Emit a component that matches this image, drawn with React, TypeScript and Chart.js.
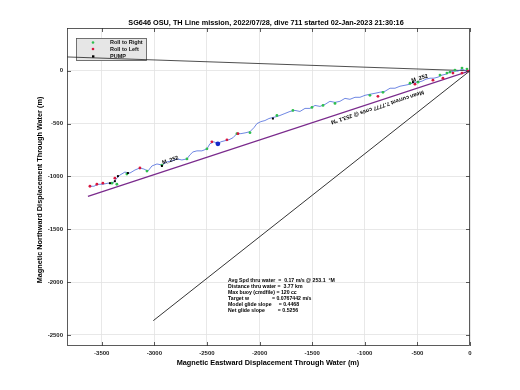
import { useEffect, useRef } from "react";
import { Chart, registerables } from "chart.js";
Chart.register(...registerables);

const titleText = "SG646 OSU, TH Line mission, 2022/07/28, dive 711 started 02-Jan-2023 21:30:16";
const xTitle = "Magnetic Eastward Displacement Through Water (m)";
const yTitle = "Magnetic Northward Displacement Through Water (m)";
const xTicks = [-3500, -3000, -2500, -2000, -1500, -1000, -500, 0];
const yTicks = [0, -500, -1000, -1500, -2000, -2500];
const xRange = [-3830, 0];
const yRange = [-2605, 405];

const trackX = [0, -38, -76, -114, -152, -190, -228, -266, -304, -342, -380, -418, -456, -494, -532, -570, -618, -665, -713, -760, -808, -856, -903, -951, -998, -1046, -1093, -1141, -1188, -1236, -1283, -1331, -1378, -1426, -1473, -1521, -1568, -1616, -1664, -1711, -1759, -1806, -1835, -1873, -1911, -1949, -1987, -2025, -2053, -2091, -2129, -2177, -2215, -2253, -2291, -2329, -2367, -2396, -2434, -2472, -2500, -2548, -2595, -2633, -2662, -2690, -2738, -2785, -2833, -2880, -2928, -2975, -3023, -3061, -3099, -3137, -3184, -3232, -3280, -3327, -3356, -3394, -3441, -3489, -3536, -3574, -3612];
const trackY = [0, 0, 16, -3, -3, -12, -32, -41, -60, -70, -70, -79, -98, -108, -108, -127, -137, -146, -165, -165, -194, -203, -213, -222, -232, -251, -251, -270, -261, -289, -299, -289, -318, -337, -328, -356, -356, -385, -375, -385, -404, -423, -433, -442, -452, -471, -481, -500, -538, -576, -586, -595, -595, -634, -653, -662, -672, -691, -672, -691, -739, -758, -758, -768, -796, -834, -844, -834, -853, -863, -892, -882, -901, -949, -930, -920, -939, -968, -959, -987, -1016, -1064, -1064, -1074, -1074, -1093, -1093];

const rightX = [-29, -76, -143, -190, -219, -285, -494, -570, -827, -951, -1283, -1397, -1502, -1683, -1835, -2091, -2215, -2500, -2690, -2928, -3070, -3261, -3356, -3403];
const rightY = [16, 26, 7, -12, -22, -41, -108, -118, -204, -232, -309, -328, -347, -375, -423, -586, -595, -739, -834, -892, -949, -977, -1074, -1064];

const leftX = [-19, -76, -162, -257, -352, -523, -875, -2205, -2310, -2453, -3137, -3375, -3489, -3546, -3612];
const leftY = [-3, -22, -22, -70, -89, -127, -242, -595, -653, -672, -920, -1016, -1064, -1074, -1093];

const pumpX = [-542, -1873, -2928, -3251, -3346, -3375, -3422];
const pumpY = [-108, -452, -901, -968, -997, -1045, -1064];

const markX = [-2396];
const markY = [-691];

const headingX = [0, -3830];
const headingY = [0, 131];
const glideX = [0, -3010];
const glideY = [0, -2365];
const netX = [0, -3631];
const netY = [0, -1188];

const labelX = [-2925, -555];
const labelY = [-870, -95];
const labelText = ["M_252", "M_252"];

const statsLines = [
  "Avg Spd thru water  =  0.17 m/s @ 253.1  \u00B0M",
  "Distance thru water =  3.77 km",
  "Max buoy (cmdfile) = 120 cc",
  "Target w                = 0.0767442 m/s",
  "Model glide slope     = 0.4468",
  "Net glide slope         = 0.5256",
];
const netText = "Mean current 7.7777 cm/s @ 253.1 \u00B0M";

const pts = (xs: number[], ys: number[]) => xs.map((x, i) => ({ x, y: ys[i] }));
const FONT = "'Liberation Sans', Arial, sans-serif";

export default function App() {
  const ref = useRef<HTMLCanvasElement | null>(null);
  useEffect(() => {
    document.body.style.margin = "0";
    const canvas = ref.current!;
    const deco = {
      id: "deco",
      beforeDatasetsDraw(chart: any) {
        const ctx = chart.ctx;
        ctx.save();
        ctx.fillStyle = "#e6e6e6";
        ctx.strokeStyle = "#555";
        ctx.lineWidth = 0.8;
        ctx.fillRect(76, 38, 71, 23);
        ctx.strokeRect(76.5, 38.5, 70, 22);
        const items = [
          ["Roll to Right", "#2fbf4f", "circle"],
          ["Roll to Left", "#d8163f", "circle"],
          ["PUMP", "#000", "rect"],
        ];
        const ys = [42.5, 49, 56.5];
        ctx.font = `bold 5.5px ${FONT}`;
        ctx.textBaseline = "middle";
        items.forEach((it, i) => {
          ctx.fillStyle = it[1];
          if (it[2] === "circle") {
            ctx.beginPath();
            ctx.arc(93, ys[i], 1.3, 0, Math.PI * 2);
            ctx.fill();
          } else {
            ctx.fillRect(92, ys[i] - 1.2, 2.4, 2.4);
          }
          ctx.fillStyle = "#111";
          ctx.fillText(it[0], 110, ys[i]);
        });
        ctx.restore();
      },
      afterDatasetsDraw(chart: any) {
        const ctx = chart.ctx;
        const a = chart.chartArea;
        const xs = chart.scales.x;
        const ys = chart.scales.y;
        ctx.save();
        ctx.strokeStyle = "#333";
        ctx.lineWidth = 0.8;
        ctx.strokeRect(a.left + 0.5, a.top + 0.5, a.right - a.left - 1, a.bottom - a.top - 1);
        ctx.beginPath();
        xTicks.forEach((v) => {
          const p = Math.round(xs.getPixelForValue(v)) + 0.5;
          ctx.moveTo(p, a.bottom);
          ctx.lineTo(p, a.bottom - 4);
          ctx.moveTo(p, a.top);
          ctx.lineTo(p, a.top + 4);
        });
        yTicks.forEach((v) => {
          const p = Math.round(ys.getPixelForValue(v)) + 0.5;
          ctx.moveTo(a.left, p);
          ctx.lineTo(a.left + 4, p);
          ctx.moveTo(a.right, p);
          ctx.lineTo(a.right - 4, p);
        });
        ctx.stroke();
        ctx.fillStyle = "#000";
        ctx.font = `bold 5.5px ${FONT}`;
        ctx.textAlign = "left";
        ctx.textBaseline = "middle";
        labelText.forEach((t, i) => {
          ctx.save();
          ctx.translate(xs.getPixelForValue(labelX[i]), ys.getPixelForValue(labelY[i]));
          ctx.rotate(-0.3);
          ctx.fillText(t, 0, 0);
          ctx.restore();
        });
        const x0 = xs.getPixelForValue(netX[0]);
        const y0 = ys.getPixelForValue(netY[0]);
        const x1 = xs.getPixelForValue(netX[1]);
        const y1 = ys.getPixelForValue(netY[1]);
        const ang = Math.atan2(y1 - y0, x1 - x0);
        ctx.save();
        ctx.translate(xs.getPixelForValue(-880), ys.getPixelForValue(-345));
        ctx.rotate(ang);
        ctx.textAlign = "center";
        ctx.font = `bold 5.5px ${FONT}`;
        ctx.fillText(netText, 0, 0);
        ctx.restore();
        ctx.font = `bold 5.2px ${FONT}`;
        ctx.textAlign = "left";
        statsLines.forEach((l, i) => {
          ctx.fillText(l, 228, 281 + i * 5.9);
        });
        ctx.restore();
      },
      afterDraw(chart: any) {
        const ctx = chart.ctx;
        ctx.save();
        ctx.fillStyle = "#000";
        ctx.textAlign = "center";
        ctx.textBaseline = "middle";
        ctx.font = `bold 7.3px ${FONT}`;
        ctx.fillText(titleText, 266, 23);
        ctx.font = `bold 7.3px ${FONT}`;
        ctx.fillText(xTitle, 268, 363);
        ctx.save();
        ctx.translate(40, 190);
        ctx.rotate(-Math.PI / 2);
        ctx.fillText(yTitle, 0, 0);
        ctx.restore();
        ctx.restore();
      },
    };
    const tickFont = { family: FONT, size: 6, weight: "bold" };
    const chart = new Chart(canvas, {
      type: "scatter",
      data: {
        datasets: [
          { data: pts(markX, markY), pointRadius: 2.4, backgroundColor: "#1428c8", borderWidth: 0, order: 0 },
          { data: pts(pumpX, pumpY), pointStyle: "rect", pointRadius: 1.4, backgroundColor: "#000", borderWidth: 0, order: 1 },
          { data: pts(leftX, leftY), pointRadius: 1.4, backgroundColor: "#d8163f", borderWidth: 0, order: 2 },
          { data: pts(rightX, rightY), pointRadius: 1.4, backgroundColor: "#2fbf4f", borderWidth: 0, order: 3 },
          { data: pts(trackX, trackY), showLine: true, pointRadius: 0, borderColor: "#4a68dc", borderWidth: 0.8, order: 4 },
          { data: pts(netX, netY), showLine: true, pointRadius: 0, borderColor: "#7a2a8c", borderWidth: 1.3, order: 5 },
          { data: pts(glideX, glideY), showLine: true, pointRadius: 0, borderColor: "#000", borderWidth: 0.8, order: 6 },
          { data: pts(headingX, headingY), showLine: true, pointRadius: 0, borderColor: "#222", borderWidth: 0.8, order: 7 },
        ],
      },
      options: {
        animation: false,
        responsive: false,
        layout: { padding: { top: 28, right: 50, left: 0, bottom: 0 } },
        plugins: { legend: { display: false }, title: { display: false }, tooltip: { enabled: false } },
        scales: {
          x: {
            type: "linear",
            min: xRange[0],
            max: xRange[1],
            afterBuildTicks: (s: any) => { s.ticks = xTicks.map((v) => ({ value: v })); },
            afterFit: (s: any) => { s.height = 44; },
            grid: { color: "#e2e2e2", lineWidth: 0.8, drawTicks: false },
            border: { display: false },
            ticks: { padding: 4, color: "#222", font: tickFont, maxRotation: 0, callback: (v: any) => String(v) },
          },
          y: {
            type: "linear",
            min: yRange[0],
            max: yRange[1],
            afterBuildTicks: (s: any) => { s.ticks = yTicks.map((v) => ({ value: v })); },
            afterFit: (s: any) => { s.width = 67; },
            grid: { color: "#e2e2e2", lineWidth: 0.8, drawTicks: false },
            border: { display: false },
            ticks: { padding: 4, color: "#222", font: tickFont, callback: (v: any) => String(v) },
          },
        },
      },
      plugins: [deco],
    } as any);
    return () => chart.destroy();
  }, []);
  return <canvas ref={ref} width={520} height={390} style={{ display: "block" }} />;
}
